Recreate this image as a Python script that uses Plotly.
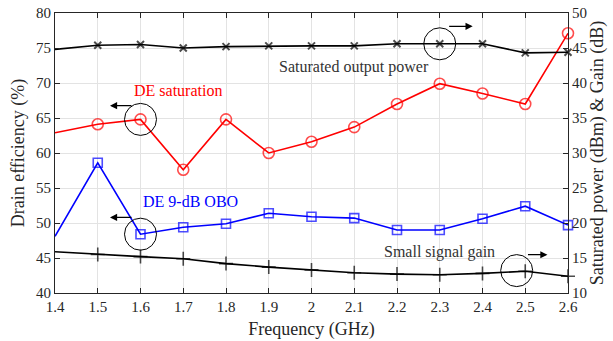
import plotly.graph_objects as go

# Frequency sweep (GHz)
freq = [1.4, 1.5, 1.6, 1.7, 1.8, 1.9, 2.0, 2.1, 2.2, 2.3, 2.4, 2.5, 2.6]

# Drain efficiency (%) - left axis
de_saturation = [62.9, 64.1, 64.8, 57.6, 64.8, 60.0, 61.6, 63.7, 67.0, 69.9, 68.5, 67.0, 77.1]
de_obo9 = [48.1, 58.6, 48.4, 49.4, 49.9, 51.4, 50.9, 50.7, 49.0, 49.0, 50.6, 52.4, 49.7]

# Saturated output power (dBm) and small-signal gain (dB) - right axis
sat_power = [44.8, 45.4, 45.5, 45.0, 45.2, 45.3, 45.3, 45.3, 45.6, 45.6, 45.6, 44.3, 44.4]
ss_gain = [15.9, 15.5, 15.2, 14.9, 14.2, 13.7, 13.3, 12.9, 12.7, 12.6, 12.8, 13.1, 12.4]

x_ticks = [1.4, 1.5, 1.6, 1.7, 1.8, 1.9, 2.0, 2.1, 2.2, 2.3, 2.4, 2.5, 2.6]
x_tick_text = ["1.4", "1.5", "1.6", "1.7", "1.8", "1.9", "2", "2.1", "2.2", "2.3", "2.4", "2.5", "2.6"]
y_left_ticks = [40, 45, 50, 55, 60, 65, 70, 75, 80]
y_right_ticks = [10, 15, 20, 25, 30, 35, 40, 45, 50]

FONT = "Liberation Serif"
AX = "#262626"
GRID = "#e3e3e3"
TICK_FONT = dict(family=FONT, size=15, color=AX)
TITLE_FONT = dict(family=FONT, size=18, color=AX)


def sizes(n, s):
    # the first sample sits on the axis edge and is drawn without a marker
    return [0] + [s] * (n - 1)


fig = go.Figure()

fig.add_trace(go.Scatter(
    x=freq, y=sat_power, yaxis="y2", mode="lines+markers",
    line=dict(color="black", width=1.6),
    marker=dict(symbol="x-thin-open", size=sizes(len(freq), 7),
                line=dict(color="black", width=2)),
    cliponaxis=False, showlegend=False))

fig.add_trace(go.Scatter(
    x=freq, y=ss_gain, yaxis="y2", mode="lines+markers",
    line=dict(color="black", width=1.6),
    marker=dict(symbol="cross-thin-open", size=sizes(len(freq), 10),
                line=dict(color="black", width=1.6)),
    cliponaxis=False, showlegend=False))

fig.add_trace(go.Scatter(
    x=freq, y=de_saturation, mode="lines+markers",
    line=dict(color="#ff0000", width=1.6),
    marker=dict(symbol="circle-open", size=sizes(len(freq), 11),
                line=dict(color="#ff0000", width=1.6)),
    cliponaxis=False, showlegend=False))

fig.add_trace(go.Scatter(
    x=freq, y=de_obo9, mode="lines+markers",
    line=dict(color="#0000ff", width=1.6),
    marker=dict(symbol="square-open", size=sizes(len(freq), 9),
                line=dict(color="#0000ff", width=1.6)),
    cliponaxis=False, showlegend=False))

# Circles highlighting which curve belongs to which axis
circles = [
    (1.6, 64.8, "y"),
    (1.6, 48.4, "y"),
    (2.3, 45.6, "y2"),
    (2.48, 13.2, "y2"),
]
for cx, cy, yr in circles:
    fig.add_shape(type="circle", xref="x", yref=yr,
                  xsizemode="pixel", ysizemode="pixel",
                  xanchor=cx, yanchor=cy, x0=-16, x1=16, y0=-16, y1=16,
                  line=dict(color="black", width=1))

# Arrows pointing to the axis each curve is read from
arrows = [
    (1.5286, 66.76, "y", 23),
    (1.5286, 50.8, "y", 23),
    (2.377, 48.09, "y2", -25),
    (2.552, 15.47, "y2", -21),
]
for axx, axy, yr, dx in arrows:
    fig.add_annotation(x=axx, y=axy, xref="x", yref=yr, text="",
                       showarrow=True, ax=dx, ay=0, arrowhead=2,
                       arrowsize=1.1, arrowwidth=1.3, arrowcolor="black",
                       standoff=0, startstandoff=0)

labels = [
    ("DE saturation", 1.6875, 68.94, "#ff0000"),
    ("Saturated output power", 2.100, 72.33, "#333333"),
    ("DE 9-dB OBO", 1.718, 53.09, "#0000ff"),
    ("Small signal gain", 2.300, 45.8, "#333333"),
]
for txt, lx, ly, col in labels:
    fig.add_annotation(x=lx, y=ly, xref="x", yref="y", text=txt,
                       showarrow=False, font=dict(family=FONT, size=16, color=col))

fig.update_layout(
    width=613, height=341,
    margin=dict(l=55, r=45, t=13, b=48),
    paper_bgcolor="white", plot_bgcolor="white",
    font=dict(family=FONT, size=15, color=AX),
    xaxis=dict(
        range=[1.4, 2.6], tickvals=x_ticks, ticktext=x_tick_text,
        showgrid=True, gridcolor=GRID, gridwidth=1, zeroline=False,
        showline=True, linecolor=AX, linewidth=1, mirror="ticks",
        ticks="inside", ticklen=5, tickcolor=AX, tickfont=TICK_FONT,
        automargin=False,
        title=dict(text="Frequency (GHz)", font=TITLE_FONT, standoff=8),
    ),
    yaxis=dict(
        range=[40, 80], tickvals=y_left_ticks,
        showgrid=True, gridcolor=GRID, gridwidth=1, zeroline=False,
        showline=True, linecolor=AX, linewidth=1,
        ticks="inside", ticklen=5, tickcolor=AX, tickfont=TICK_FONT,
        automargin=False,
        title=dict(text="Drain efficiency (%)", font=TITLE_FONT, standoff=6),
    ),
    yaxis2=dict(
        range=[10, 50], tickvals=y_right_ticks, overlaying="y", side="right",
        showgrid=False, zeroline=False,
        showline=True, linecolor=AX, linewidth=1,
        ticks="inside", ticklen=5, tickcolor=AX, tickfont=TICK_FONT,
        automargin=False,
        title=dict(text="Saturated power (dBm) & Gain (dB)", font=TITLE_FONT, standoff=2),
    ),
)

fig.write_html("out.html")
